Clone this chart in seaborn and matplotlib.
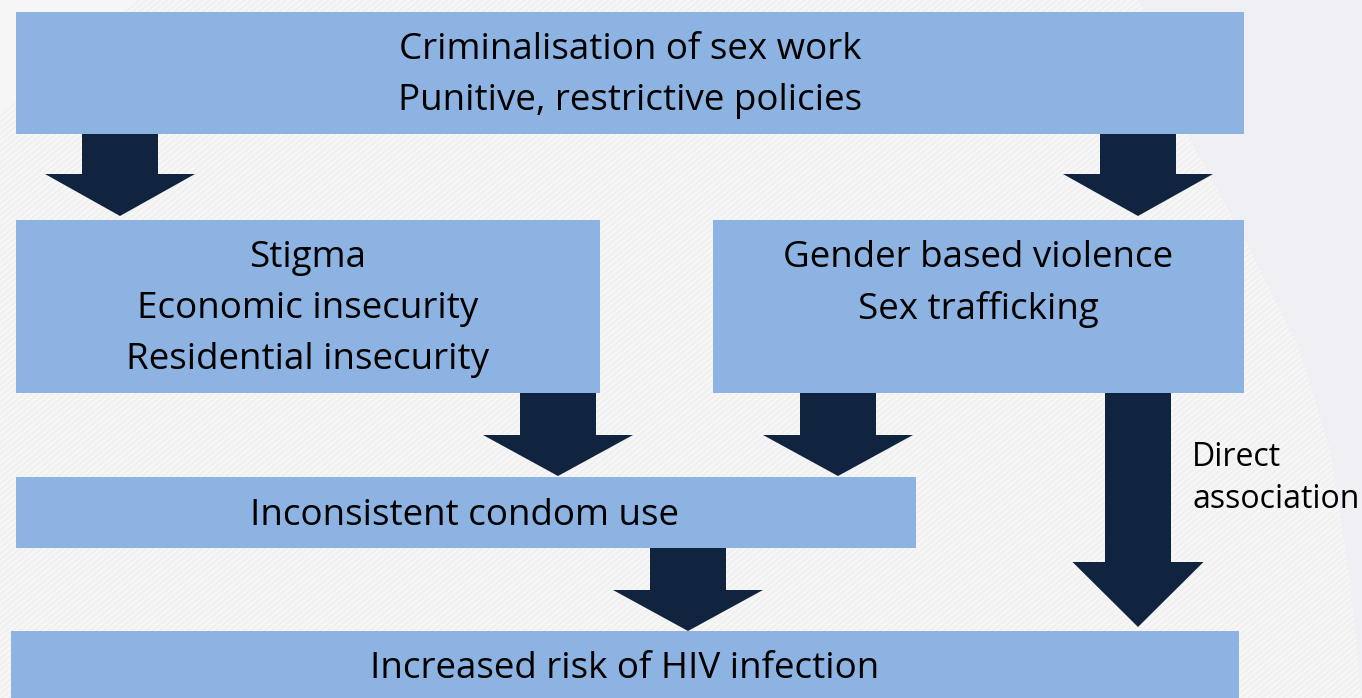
import numpy as np
import matplotlib
matplotlib.use("Agg")
import matplotlib.pyplot as plt
import seaborn as sns
from matplotlib.patches import Rectangle, FancyArrow, Polygon

# boxes: (left, top, right, bottom) in pixel space of the slide
box_names = ["policy", "stigma", "violence", "condom", "hiv"]
box_left = [16, 16, 713, 16, 11]
box_top = [12, 220, 220, 477, 631]
box_right = [1244, 600, 1244, 916, 1239]
box_bottom = [134, 393, 393, 548, 712]
box_texts = [
    ["Criminalisation of sex work", "Punitive, restrictive policies"],
    ["Stigma", "Economic insecurity", "Residential insecurity"],
    ["Gender based violence", "Sex trafficking"],
    ["Inconsistent condom use"],
    ["Increased risk of HIV infection"],
]
box_text_x = [630, 308, 978, 465, 625]
box_text_y = [[50, 101], [258, 309, 360], [258, 309], [516], [669]]

# arrows: centre x, start y, tip y, shaft width, head width, head length
arrow_x = [120, 1138, 558, 838, 1138, 688]
arrow_y0 = [134, 134, 393, 393, 393, 548]
arrow_y1 = [216, 216, 476, 476, 627, 631]
arrow_shaft = [76, 76, 76, 76, 66, 76]
arrow_head = [150, 150, 150, 150, 131, 150]
arrow_headlen = [42, 42, 41, 41, 65, 41]

side_label = ["Direct", "association"]
side_label_y = [458, 499]

W, H = 1362, 698
BOX = "#8db3e2"
ARROW = "#11243f"

sns.set_theme(style="white")
plt.rcParams["font.family"] = ["Open Sans", "DejaVu Sans"]

fig = plt.figure(figsize=(W / 100, H / 100), dpi=100)
ax = fig.add_axes([0, 0, 1, 1])
ax.set_xlim(0, W)
ax.set_ylim(H, 0)
ax.axis("off")
fig.patch.set_facecolor("#f0f0f4")

# striped backdrop
edge = np.array([[1140, 0], [1185, 130], [1250, 250], [1300, 350],
                 [1330, 450], [1350, 580], [1362, 698]])
back = Polygon(np.vstack([[[0, 0]], edge, [[0, H]]]), closed=True,
               facecolor="#f6f6f6", edgecolor="none", zorder=0)
ax.add_patch(back)
for c in np.arange(-H, W + H, 7):
    ln, = ax.plot([c, c + H * 1.2], [H, 0], color="#eeeeee", lw=0.9, zorder=0.5)
    ln.set_clip_path(back)

for i in range(len(box_names)):
    ax.add_patch(Rectangle((box_left[i], box_top[i]), box_right[i] - box_left[i],
                           box_bottom[i] - box_top[i], facecolor=BOX,
                           edgecolor="none", zorder=2))
    for txt, ty in zip(box_texts[i], box_text_y[i]):
        ax.text(box_text_x[i], ty, txt, ha="center", va="center",
                fontsize=26.5, color="black", zorder=3)

for i in range(len(arrow_x)):
    ax.add_patch(FancyArrow(arrow_x[i], arrow_y0[i], 0, arrow_y1[i] - arrow_y0[i],
                            width=arrow_shaft[i], head_width=arrow_head[i],
                            head_length=arrow_headlen[i], length_includes_head=True,
                            facecolor=ARROW, edgecolor="none", zorder=4))

for txt, ty in zip(side_label, side_label_y):
    ax.text(1192, ty, txt, ha="left", va="center", fontsize=23,
            color="black", zorder=3)

fig.savefig("out.png", dpi=100, facecolor=fig.get_facecolor())
